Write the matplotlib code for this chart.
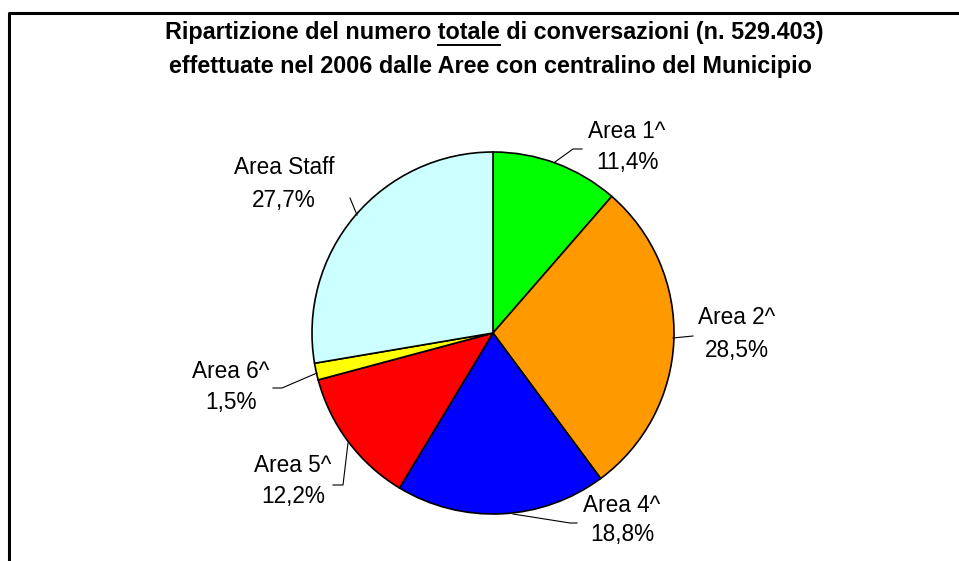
import matplotlib
matplotlib.use("Agg")
import matplotlib.pyplot as plt
from matplotlib.lines import Line2D

categories = ["Area 1^", "Area 2^", "Area 4^", "Area 5^", "Area 6^", "Area Staff"]
values = [11.4, 28.5, 18.8, 12.2, 1.5, 27.7]
colors = ["#00FF00", "#FF9900", "#0000FF", "#FF0000", "#FFFF00", "#CCFFFF"]
title_line1_pre = "Ripartizione del numero "
title_line1_ul = "totale"
title_line1_post = " di conversazioni (n. 529.403)"
title_line2 = "effettuate nel 2006 dalle Aree con centralino del Municipio"

title_font = "Liberation Sans"
label_font = "Liberation Sans"

W, H = 959, 561
fig = plt.figure(figsize=(W / 100, H / 100), dpi=100)
ax = fig.add_axes([0, 0, 1, 1])

def Y(y):
    return H - y

cx, cy, r = 493, 333, 181
ax.pie(values, colors=colors, startangle=90, counterclock=False,
       center=(cx, Y(cy)), radius=r, frame=True,
       wedgeprops=dict(edgecolor="black", linewidth=1.2))
ax.set_xlim(0, W)
ax.set_ylim(0, H)
ax.set_aspect("auto")
ax.axis("off")

# frame (top and left only)
ax.add_line(Line2D([9, 9, W], [0, Y(12.5), Y(12.5)], color="black", lw=2.2))

# (x, y of first line baseline-ish center, y of second line)
label_pos = [(627, 131, 162), (737, 318, 350), (622, 505, 535),
             (293, 466, 497), (231, 371, 402), (284, 167, 200)]
leaders = [
    [(555, 162), (573, 149), (582, 149)],
    [(673, 338), (693, 336)],
    [(513, 514), (570, 523), (577, 523)],
    [(348, 443), (343, 485), (333, 485)],
    [(317, 373), (282, 388), (273, 388)],
    [(357, 215), (350, 198)],
]
for cat, v, (lx, ly1, ly2), pts in zip(categories, values, label_pos, leaders):
    pct = f"{v:.1f}%".replace(".", ",")
    ax.text(lx, Y(ly1), cat, ha="center", va="center", fontsize=16.3,
            family=label_font)
    ax.text(lx, Y(ly2), pct, ha="center", va="center", fontsize=16.3,
            family=label_font)
    ax.add_line(Line2D([p[0] for p in pts], [Y(p[1]) for p in pts],
                       color="black", lw=0.8))

# title
full1 = title_line1_pre + title_line1_ul + title_line1_post
tkw = dict(fontsize=16.8, family=title_font, fontweight="bold", va="center")
t1 = ax.text(494, Y(32.5), full1, ha="center", **tkw)
ax.text(490, Y(66), title_line2, ha="center", **tkw)

fig.canvas.draw()
renderer = fig.canvas.get_renderer()
bb = t1.get_window_extent(renderer)
tmp_pre = ax.text(0, 0, title_line1_pre.rstrip() + "_", **tkw)
tmp_us = ax.text(0, 0, "_", **tkw)
tmp_ul = ax.text(0, 0, title_line1_ul, **tkw)
w_pre = tmp_pre.get_window_extent(renderer).width - tmp_us.get_window_extent(renderer).width
tmp_sp = ax.text(0, 0, "a a", **tkw)
tmp_aa = ax.text(0, 0, "aa", **tkw)
w_sp = tmp_sp.get_window_extent(renderer).width - tmp_aa.get_window_extent(renderer).width
w_ul = tmp_ul.get_window_extent(renderer).width
for t in (tmp_pre, tmp_us, tmp_ul, tmp_sp, tmp_aa):
    t.remove()
x0 = bb.x0 + w_pre + w_sp
ax.add_line(Line2D([x0, x0 + w_ul], [Y(44.5), Y(44.5)], color="black", lw=1.4))

fig.savefig("out.png", dpi=100, facecolor="white")
